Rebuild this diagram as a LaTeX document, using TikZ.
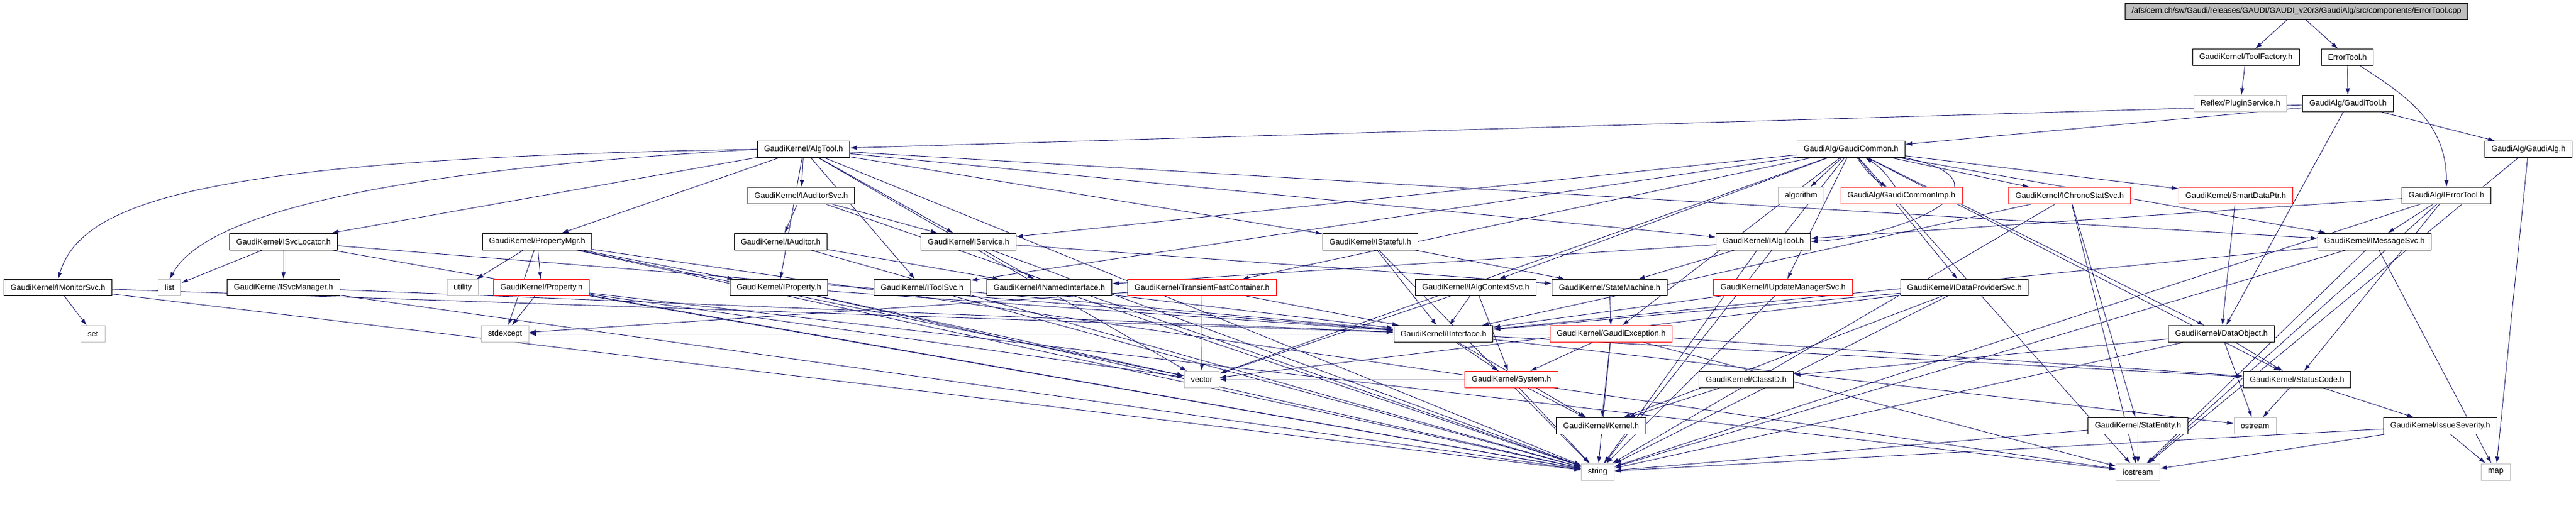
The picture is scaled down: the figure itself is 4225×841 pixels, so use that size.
\documentclass[tikz,border=0pt]{standalone}
\usepackage{fontspec}
\setmainfont{Liberation Sans}
\usetikzlibrary{arrows.meta}
\definecolor{edgeblue}{HTML}{191970}
\definecolor{sysgrey}{HTML}{BFBFBF}
\pgfdeclarelayer{background}
\pgfsetlayers{background,main}

\begin{document}
\begin{tikzpicture}[x=1pt,y=1pt,
  hdr/.style={draw=black,fill=white,line width=1pt,minimum height=27pt,
    inner xsep=11pt,inner ysep=0pt,font=\fontsize{13}{15}\selectfont},
  trunc/.style={hdr,draw=red},
  sys/.style={hdr,draw=sysgrey},
  root/.style={hdr,fill=sysgrey},
  dep/.style={edgeblue,line width=0.9pt,-{Latex[length=11pt,width=7pt]}}]
  \useasboundingbox (0,0) rectangle (4225,-841);

  % rows 0 to 4
  \node[root]  (cpp)         at (3766.5,-18.5) {/afs/cern.ch/sw/Gaudi/releases/GAUDI/GAUDI\_v20r3/GaudiAlg/src/components/ErrorTool.cpp};
  \node[hdr]   (toolfactory) at (3683.5,-94)   {GaudiKernel/ToolFactory.h};
  \node[hdr]   (errortool)   at (3850,-94)     {ErrorTool.h};
  \node[sys]   (pluginsvc)   at (3674.5,-170)  {Reflex/PluginService.h};
  \node[hdr]   (gauditool)   at (3851,-170)    {GaudiAlg/GaudiTool.h};
  \node[hdr]   (algtool)     at (1318,-245)    {GaudiKernel/AlgTool.h};
  \node[hdr]   (gaudicommon) at (3036,-245)    {GaudiAlg/GaudiCommon.h};
  \node[hdr]   (gaudialg)    at (4147,-245)    {GaudiAlg/GaudiAlg.h};
  \node[hdr]   (iauditorsvc) at (1314,-321)    {GaudiKernel/IAuditorSvc.h};
  \node[sys]   (algorithm)   at (2954,-321)    {algorithm};
  \node[trunc] (commonimp)   at (3118.5,-321)  {GaudiAlg/GaudiCommonImp.h};
  \node[trunc] (ichronostat) at (3394.5,-321)  {GaudiKernel/IChronoStatSvc.h};
  \node[trunc] (smartptr)    at (3667,-321)    {GaudiKernel/SmartDataPtr.h};
  \node[hdr]   (ierrortool)  at (4012.5,-321)  {GaudiAlg/IErrorTool.h};

  % rows 5 and 6
  \node[hdr]   (isvclocator) at (465,-396.5)   {GaudiKernel/ISvcLocator.h};
  \node[hdr]   (propmgr)     at (881,-396.5)   {GaudiKernel/PropertyMgr.h};
  \node[hdr]   (iauditor)    at (1280.5,-396.5) {GaudiKernel/IAuditor.h};
  \node[hdr]   (iservice)    at (1588.5,-396.5) {GaudiKernel/IService.h};
  \node[hdr]   (istateful)   at (2247.5,-396.5) {GaudiKernel/IStateful.h};
  \node[hdr]   (ialgtool)    at (2892,-396.5)  {GaudiKernel/IAlgTool.h};
  \node[hdr]   (imsgsvc)     at (3894.5,-396.5) {GaudiKernel/IMessageSvc.h};
  \node[hdr]   (imonitorsvc) at (95,-472)      {GaudiKernel/IMonitorSvc.h};
  \node[sys]   (list)        at (278,-472)     {list};
  \node[hdr]   (isvcmgr)     at (465,-472)     {GaudiKernel/ISvcManager.h};
  \node[sys]   (utility)     at (759,-472)     {utility};
  \node[trunc] (property)    at (888,-472)     {GaudiKernel/Property.h};
  \node[hdr]   (iproperty)   at (1277.5,-472)  {GaudiKernel/IProperty.h};
  \node[hdr]   (itoolsvc)    at (1512.5,-472)  {GaudiKernel/IToolSvc.h};
  \node[hdr]   (inamed)      at (1721,-472)    {GaudiKernel/INamedInterface.h};
  \node[trunc] (tfcontainer) at (1971.5,-472)  {GaudiKernel/TransientFastContainer.h};
  \node[hdr]   (ialgctx)     at (2420.5,-472)  {GaudiKernel/IAlgContextSvc.h};
  \node[hdr]   (statemachine) at (2640,-472)   {GaudiKernel/StateMachine.h};
  \node[trunc] (iupdmgr)     at (2924.5,-472)  {GaudiKernel/IUpdateManagerSvc.h};
  \node[hdr]   (idataprov)   at (3222,-472)    {GaudiKernel/IDataProviderSvc.h};

  % rows 7 to 10
  \node[sys]   (set)         at (152.5,-548)   {set};
  \node[sys]   (stdexcept)   at (828.5,-548)   {stdexcept};
  \node[hdr]   (iinterface)  at (2367.5,-548)  {GaudiKernel/IInterface.h};
  \node[trunc] (gaudiexc)    at (2642.5,-548)  {GaudiKernel/GaudiException.h};
  \node[hdr]   (dataobject)  at (3643.5,-548)  {GaudiKernel/DataObject.h};
  \node[sys]   (vector)      at (1971,-623)    {vector};
  \node[trunc] (system)      at (2479,-623)    {GaudiKernel/System.h};
  \node[hdr]   (classid)     at (2864,-623)    {GaudiKernel/ClassID.h};
  \node[hdr]   (statuscode)  at (3767.5,-623)  {GaudiKernel/StatusCode.h};
  \node[hdr]   (kernel)      at (2626,-699)    {GaudiKernel/Kernel.h};
  \node[hdr]   (statentity)  at (3506.5,-699)  {GaudiKernel/StatEntity.h};
  \node[sys]   (ostream)     at (3698.5,-699)  {ostream};
  \node[hdr]   (issuesev)    at (4002.5,-699)  {GaudiKernel/IssueSeverity.h};
  \node[sys]   (string)      at (2620.5,-774.5) {string};
  \node[sys]   (iostream)    at (3506.5,-774.5) {iostream};
  \node[sys]   (map)         at (4093.5,-774.5) {map};

  \begin{pgfonlayer}{background}
  \path[dep]
    (cpp)         edge (toolfactory) edge (errortool)
    (toolfactory) edge (pluginsvc)
    (errortool)   edge (gauditool)
    (gauditool)   edge (algtool) edge (gaudicommon) edge (gaudialg)
                  edge (dataobject)
    (gaudialg)    edge (map) edge (iostream)
    (algtool)     edge (iauditorsvc) edge (isvclocator) edge (propmgr)
                  edge (iservice) edge (istateful) edge (ialgtool)
                  edge (imsgsvc) edge (iproperty) edge (itoolsvc)
                  edge (vector) edge (string)
    (gaudicommon) edge (algorithm) edge[bend right=12] (commonimp)
                  edge (ichronostat) edge (smartptr) edge (iupdmgr)
                  edge (idataprov) edge (imsgsvc) edge (ialgctx)
                  edge (tfcontainer) edge (itoolsvc) edge (iservice)
                  edge (dataobject) edge (statuscode) edge (gaudiexc)
                  edge (vector) edge (string) edge (iostream)
    (commonimp)   edge[bend right=12] (gaudicommon)
    (iauditorsvc) edge (iauditor) edge (iservice) edge (string)
    (iauditor)    edge (inamed) edge (string)
    (iservice)    edge (inamed) edge (statemachine) edge (string)
    (istateful)   edge (statemachine) edge (iinterface) edge (string)
    (ialgtool)    edge (inamed) edge (statemachine) edge (string)
    (imsgsvc)     edge (iinterface) edge (string) edge (map)
                  edge (iostream)
    (ierrortool)  edge (ialgtool) edge (imsgsvc) edge (statuscode)
                  edge (string) edge (iostream)
    (ichronostat) edge (iinterface) edge (statentity) edge (string)
                  edge (iostream)
    (smartptr)    edge (dataobject)
    (isvclocator) edge (list) edge (isvcmgr) edge (iinterface)
                  edge (string)
    (propmgr)     edge (utility) edge (property) edge (iproperty)
                  edge (stdexcept) edge (vector) edge (string)
                  edge (iostream)
    (imonitorsvc) edge (set) edge (iinterface) edge (string)
    (isvcmgr)     edge (iinterface) edge (string)
    (property)    edge (stdexcept) edge (vector) edge (string)
                  edge (iostream)
    (iproperty)   edge (iinterface) edge (vector) edge (string)
    (itoolsvc)    edge (iinterface) edge (string)
    (inamed)      edge (iinterface) edge (string)
    (tfcontainer) edge (vector) edge (stdexcept) edge (iinterface)
    (ialgctx)     edge (iinterface) edge (system) edge (vector)
    (statemachine) edge (gaudiexc)
    (iupdmgr)     edge (iinterface) edge (string)
    (idataprov)   edge (iinterface) edge (kernel) edge (vector)
                  edge (string)
    (gaudiexc)    edge (system) edge (kernel) edge (string)
                  edge (statuscode) edge (stdexcept) edge (iostream)
    (dataobject)  edge (classid) edge (statuscode) edge (ostream)
                  edge (string)
    (iinterface)  edge (kernel) edge (statuscode) edge (system)
                  edge (ostream)
    (system)      edge (kernel) edge (string) edge (vector)
    (classid)     edge (kernel)
    (statuscode)  edge (ostream) edge (issuesev)
    (statentity)  edge (iostream) edge (string)
    (issuesev)    edge (map) edge (iostream) edge (string);
  % curved connectors routed round other boxes
  \draw[dep] (errortool) .. controls +(90,-60) and +(0,110) .. (ierrortool.north);
  \draw[dep] (algtool.west) .. controls +(-900,-15) and +(40,130) .. (imonitorsvc.north);
  \draw[dep] (algtool.west) .. controls +(-700,-40) and +(50,90) .. (list.north);
  \draw[dep] (gaudicommon.south east) .. controls +(190,-40) and +(160,10) .. (ialgtool.east);
  \end{pgfonlayer}
\end{tikzpicture}
\end{document}
